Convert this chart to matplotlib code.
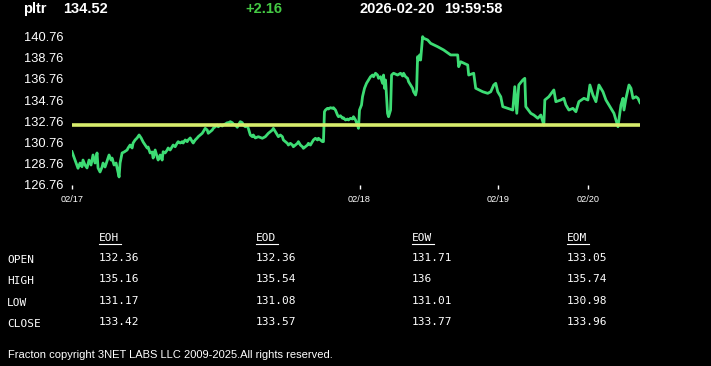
import matplotlib
matplotlib.use("Agg")
import matplotlib.pyplot as plt
from matplotlib.lines import Line2D

symbol = "pltr"
last_price = "134.52"
change = "+2.16"
stamp_date = "2026-02-20"
stamp_time = "19:59:58"
prev_close = 132.36

# bar index (intraday bars since 02/17) and price
bar = [0, 3, 6, 8, 10, 11, 13, 15, 17, 19, 21, 23, 25, 26, 28, 30, 31, 33, 36, 37,
       39, 40, 42, 44, 45, 47, 48, 50, 52, 55, 56, 58, 60, 61, 63, 65, 67, 69, 71, 73,
       75, 76, 78, 80, 81, 83, 85, 86, 88, 90, 91, 93, 95, 96, 98, 100, 101, 103, 105, 106,
       108, 110, 111, 113, 115, 116, 118, 120, 121, 123, 125, 126, 128, 130, 131, 133, 135, 136, 138, 140,
       141, 143, 145, 146, 148, 150, 151, 153, 155, 156, 158, 160, 161, 163, 165, 166, 168, 170, 171, 173,
       175, 176, 178, 180, 181, 183, 186, 190, 193, 196, 200, 201, 203, 205, 206, 208, 210, 211, 213, 215,
       216, 218, 220, 221, 223, 225, 226, 228, 230, 231, 233, 235, 236, 238, 240, 241, 243, 245, 246, 248,
       250, 251, 252, 253, 255, 256, 258, 260, 261, 263, 265, 266, 268, 270, 271, 273, 275, 276, 278, 280,
       281, 283, 285, 286, 287, 289, 290, 292, 294, 296, 298, 300, 301, 303, 305, 306, 308, 310, 311, 312,
       313, 315, 316, 317, 318, 319, 321, 325, 328, 330, 331, 333, 335, 336, 338, 340, 341, 343, 344, 345,
       346, 347, 348, 350, 351, 355, 358, 365, 371, 378, 385, 386, 388, 395, 396, 401, 403, 410, 415, 418,
       421, 423, 425, 428, 430, 435, 440, 442, 444, 446, 450, 452, 453, 458, 461, 465, 468, 471, 472, 476,
       481, 483, 488, 491, 493, 496, 500, 503, 506, 511, 515, 517, 520, 523, 526, 530, 533, 538, 541, 545,
       548, 550, 551, 553, 556, 558, 560, 563, 565, 567]
price = [129.88, 129.09, 128.31, 128.81, 128.46, 129.09, 128.62, 128.34, 129.09, 128.62,
         129.57, 128.81, 129.76, 128.34, 127.96, 128.43, 128.81, 128.43, 129.28, 129.57,
         129.09, 129.28, 128.62, 128.81, 128.34, 127.49, 128.81, 129.76, 129.85, 130.04,
         130.23, 130.51, 130.23, 130.70, 130.99, 131.18, 131.46, 131.18, 130.80, 130.51,
         130.23, 130.32, 129.76, 129.85, 129.28, 130.04, 129.38, 129.09, 129.57, 129.09,
         129.88, 129.76, 130.04, 130.23, 130.04, 130.35, 130.51, 130.35, 130.70, 130.83,
         130.70, 130.83, 130.70, 130.99, 130.83, 130.99, 131.18, 130.83, 130.70, 130.99,
         131.18, 131.30, 131.46, 131.62, 131.77, 132.09, 131.93, 131.62, 131.77, 131.93,
         132.09, 132.24, 132.40, 132.24, 132.40, 132.31, 132.40, 132.50, 132.62, 132.57,
         132.72, 132.62, 132.50, 132.40, 132.19, 132.40, 132.72, 132.62, 132.40, 132.24,
         132.31, 132.09, 131.46, 131.30, 131.46, 131.18, 131.30, 131.15, 131.30, 131.62,
         131.93, 132.09, 131.77, 131.46, 131.30, 131.46, 131.30, 130.99, 130.83, 130.67,
         130.51, 130.67, 130.51, 130.35, 130.51, 130.67, 130.83, 130.51, 130.35, 130.20,
         130.35, 130.51, 130.67, 130.51, 130.83, 130.99, 131.15, 130.99, 131.15, 130.99,
         130.83, 130.83, 133.66, 133.82, 133.98, 133.92, 134.04, 133.98, 134.04, 133.82,
         133.35, 133.19, 133.28, 133.04, 133.09, 132.88, 132.97, 132.88, 133.04, 132.97,
         133.19, 132.88, 132.40, 132.09, 133.82, 134.30, 135.08, 135.88, 136.35, 136.66,
         136.97, 137.13, 136.97, 137.30, 137.13, 136.82, 136.97, 136.35, 137.13, 135.88,
         136.66, 133.51, 133.19, 133.51, 133.82, 137.13, 137.30, 137.13, 137.30, 137.04,
         137.30, 136.97, 136.82, 136.50, 136.19, 135.88, 135.55, 135.24, 135.72, 138.87,
         138.55, 139.03, 138.55, 140.76, 140.61, 140.45, 140.13, 139.81, 139.50, 139.03,
         139.03, 137.92, 138.39, 138.08, 137.13, 137.30, 135.88, 135.55, 135.40, 135.55,
         136.19, 136.35, 135.55, 135.08, 134.14, 133.98, 133.82, 136.03, 133.51, 136.19,
         136.66, 136.82, 134.14, 133.51, 133.35, 133.04, 133.35, 132.40, 134.77, 135.08,
         135.72, 134.61, 134.77, 134.93, 134.30, 133.82, 133.98, 133.66, 134.61, 134.93,
         134.77, 136.19, 135.24, 134.61, 136.19, 135.55, 134.77, 133.98, 133.51, 132.24,
         134.30, 134.93, 133.82, 134.93, 136.19, 135.88, 134.93, 135.08, 134.93, 134.52]

date_bars = [0, 287, 425, 515]
date_labels = ["02/17", "02/18", "02/19", "02/20"]
ytick_vals = [126.76, 128.76, 130.76, 132.76, 134.76, 136.76, 138.76, 140.76]

col_heads = ["EOH", "EOD", "EOW", "EOM"]
row_heads = ["OPEN", "HIGH", "LOW", "CLOSE"]
eoh = ["132.36", "135.16", "131.17", "133.42"]
eod = ["132.36", "135.54", "131.08", "133.57"]
eow = ["131.71", "136", "131.01", "133.77"]
eom = ["133.05", "135.74", "130.98", "133.96"]

W, H = 711, 366
fig = plt.figure(figsize=(W / 100, H / 100), dpi=100, facecolor="black")

ax = fig.add_axes([72 / W, 1 - 185 / H, 568 / W, 155 / H], facecolor="black")
ax.plot(bar, price, color="#3ddc74", lw=2.0, solid_joinstyle="round")
ax.axhline(prev_close, color="#d7ec6c", lw=2.6)
ax.set_xlim(0, bar[-1])
ax.set_ylim(126.73, 141.39)
for s in ax.spines.values():
    s.set_visible(False)
ax.set_yticks(ytick_vals)
ax.set_yticklabels([f"{v:.2f}" for v in ytick_vals])
ax.tick_params(axis="y", length=0, pad=6, colors="white", labelsize=9.3)
ax.set_xticks(date_bars)
ax.set_xticklabels(date_labels)
ax.tick_params(axis="x", length=3, width=1, pad=4, colors="white", labelsize=6.6)
for lab in ax.get_yticklabels() + ax.get_xticklabels():
    lab.set_fontfamily("Liberation Sans")

# header line
hdr = dict(color="white", fontsize=10.5, fontweight="bold", family="Liberation Sans",
           va="center", ha="left")
fig.text(23 / W, 1 - 9 / H, symbol, **hdr)
fig.text(63 / W, 1 - 9 / H, last_price, **hdr)
fig.text(245 / W, 1 - 9 / H, change, **{**hdr, "color": "#44c944"})
fig.text(360 / W, 1 - 9 / H, stamp_date, **hdr)
fig.text(444 / W, 1 - 9 / H, stamp_time, **hdr)

# summary table
mono = dict(color="white", fontsize=8, family="DejaVu Sans Mono", va="center", ha="left")
col_x = [99, 256, 412, 567]
label_y = [260, 281, 303, 324]
value_y = [258, 279, 301, 322]
for cx, head, vals in zip(col_x, col_heads, [eoh, eod, eow, eom]):
    fig.text(cx / W, 1 - 238 / H, head, **mono)
    fig.add_artist(Line2D([cx / W, (cx + 22) / W], [1 - 244 / H, 1 - 244 / H],
                          color="white", lw=0.8, transform=fig.transFigure))
    for ry, v in zip(value_y, vals):
        fig.text(cx / W, 1 - ry / H, v, **mono)
for ry, name in zip(label_y, row_heads):
    fig.text(7 / W, 1 - ry / H, name, **mono)

fig.text(8 / W, 1 - 355 / H, "Fracton copyright 3NET LABS LLC 2009-2025.All rights reserved.",
         color="white", fontsize=8.0, family="Liberation Sans", va="center", ha="left")

fig.savefig("out.png", dpi=100, facecolor="black")
